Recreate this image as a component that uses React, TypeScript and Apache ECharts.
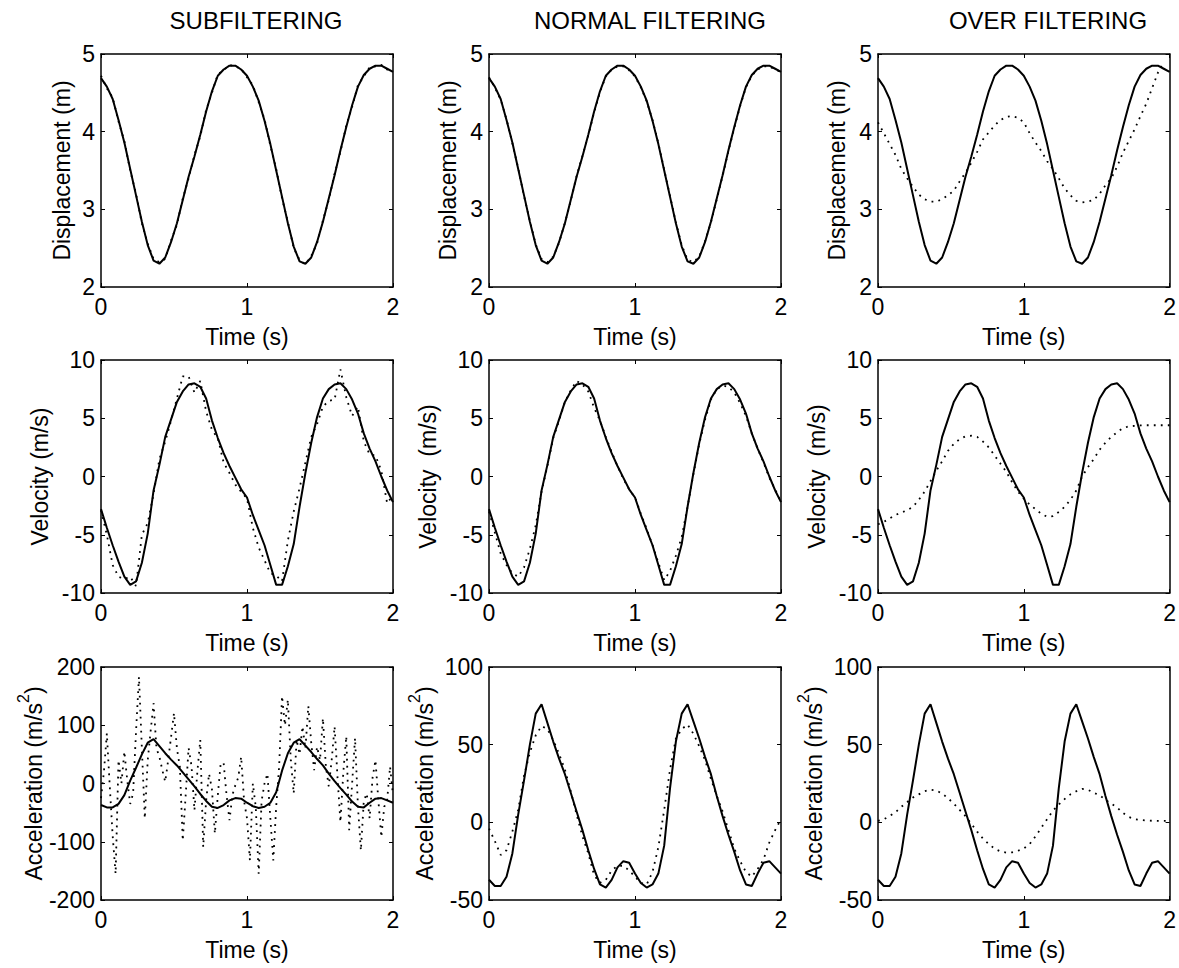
import React, { useEffect, useRef } from "react";
import * as echarts from "echarts";

// ---------- data ----------
const TIME = [0, 0.04, 0.08, 0.12, 0.16, 0.2, 0.24, 0.28, 0.32, 0.36, 0.4, 0.44, 0.48, 0.52, 0.56, 0.6, 0.64, 0.68, 0.72, 0.76, 0.8, 0.84, 0.88, 0.92, 0.96, 1, 1.04, 1.08, 1.12, 1.16, 1.2, 1.24, 1.28, 1.32, 1.36, 1.4, 1.44, 1.48, 1.52, 1.56, 1.6, 1.64, 1.68, 1.72, 1.76, 1.8, 1.84, 1.88, 1.92, 1.96, 2];
const TIME_FINE = [0, 0.02, 0.04, 0.06, 0.08, 0.1, 0.12, 0.14, 0.16, 0.18, 0.2, 0.22, 0.24, 0.26, 0.28, 0.3, 0.32, 0.34, 0.36, 0.38, 0.4, 0.42, 0.44, 0.46, 0.48, 0.5, 0.52, 0.54, 0.56, 0.58, 0.6, 0.62, 0.64, 0.66, 0.68, 0.7, 0.72, 0.74, 0.76, 0.78, 0.8, 0.82, 0.84, 0.86, 0.88, 0.9, 0.92, 0.94, 0.96, 0.98, 1, 1.02, 1.04, 1.06, 1.08, 1.1, 1.12, 1.14, 1.16, 1.18, 1.2, 1.22, 1.24, 1.26, 1.28, 1.3, 1.32, 1.34, 1.36, 1.38, 1.4, 1.42, 1.44, 1.46, 1.48, 1.5, 1.52, 1.54, 1.56, 1.58, 1.6, 1.62, 1.64, 1.66, 1.68, 1.7, 1.72, 1.74, 1.76, 1.78, 1.8, 1.82, 1.84, 1.86, 1.88, 1.9, 1.92, 1.94, 1.96, 1.98, 2];

// reference (solid) signals
const dispRef = [4.69, 4.58, 4.42, 4.15, 3.86, 3.52, 3.18, 2.84, 2.54, 2.34, 2.30, 2.38, 2.58, 2.82, 3.12, 3.42, 3.68, 3.96, 4.26, 4.52, 4.72, 4.80, 4.85, 4.85, 4.80, 4.72, 4.58, 4.40, 4.14, 3.84, 3.50, 3.16, 2.82, 2.52, 2.33, 2.30, 2.38, 2.58, 2.84, 3.14, 3.44, 3.76, 4.06, 4.34, 4.58, 4.73, 4.81, 4.85, 4.85, 4.81, 4.77];
const velRef = [-2.8, -4.4, -5.9, -7.3, -8.6, -9.3, -9.0, -7.4, -4.9, -1.2, 1.0, 3.4, 4.9, 6.4, 7.3, 7.9, 8.0, 7.7, 6.7, 4.8, 3.3, 2.0, 0.9, -0.1, -1.1, -1.8, -3.3, -4.6, -5.9, -7.6, -9.3, -9.3, -7.7, -5.8, -2.6, 0.3, 2.9, 5.1, 6.7, 7.5, 7.9, 8.0, 7.5, 6.6, 5.4, 3.7, 2.4, 1.3, 0.0, -1.2, -2.2];
const accRef = [-37, -41, -41, -35, -20, 5, 27, 50, 70, 76, 64, 52, 41, 31, 19, 7, -5, -18, -30, -40, -42, -37, -29, -25, -26, -33, -39, -42, -40, -33, -15, 22, 52, 70, 76, 65, 54, 42, 31, 17, 4, -8, -19, -31, -40, -41, -33, -26, -25, -29, -33];

// filtered (dotted) signals
const dispSub = [4.72, 4.56, 4.44, 4.13, 3.88, 3.50, 3.20, 2.82, 2.56, 2.36, 2.32, 2.36, 2.60, 2.80, 3.14, 3.40, 3.70, 3.94, 4.28, 4.50, 4.74, 4.79, 4.86, 4.84, 4.81, 4.70, 4.60, 4.38, 4.16, 3.82, 3.52, 3.14, 2.84, 2.50, 2.35, 2.29, 2.40, 2.56, 2.86, 3.12, 3.46, 3.74, 4.08, 4.32, 4.60, 4.71, 4.83, 4.84, 4.86, 4.80, 4.78];
const dispNorm = [4.70, 4.57, 4.41, 4.16, 3.85, 3.53, 3.17, 2.85, 2.55, 2.36, 2.32, 2.39, 2.57, 2.83, 3.11, 3.43, 3.69, 3.95, 4.25, 4.51, 4.71, 4.80, 4.84, 4.84, 4.79, 4.71, 4.57, 4.39, 4.15, 3.85, 3.51, 3.17, 2.83, 2.54, 2.35, 2.32, 2.39, 2.59, 2.83, 3.13, 3.43, 3.75, 4.05, 4.33, 4.57, 4.72, 4.80, 4.84, 4.84, 4.80, 4.77];
const dispOver = [4.12, 3.98, 3.84, 3.70, 3.52, 3.40, 3.29, 3.19, 3.13, 3.10, 3.10, 3.13, 3.18, 3.24, 3.36, 3.47, 3.60, 3.74, 3.90, 3.99, 4.08, 4.15, 4.19, 4.20, 4.18, 4.12, 3.98, 3.86, 3.75, 3.62, 3.52, 3.40, 3.27, 3.18, 3.11, 3.09, 3.10, 3.12, 3.20, 3.31, 3.40, 3.55, 3.73, 3.88, 4.03, 4.20, 4.36, 4.56, 4.76, 4.90, null];
const velSub = [-2.9, -5.0, -7.6, -8.6, -8.8, -8.6, -9.4, -5.0, -4.0, -1.5, 1.5, 3.0, 4.8, 6.7, 8.6, 8.6, 7.2, 8.2, 5.6, 4.0, 3.3, 1.2, 0.3, -0.7, -1.3, -1.9, -4.4, -6.1, -7.2, -8.3, -8.5, -9.0, -5.5, -3.0, -1.0, 1.2, 3.4, 4.5, 6.0, 6.5, 6.6, 9.2, 6.8, 5.2, 6.0, 3.0, 1.9, 1.8, 0.5, -2.3, -1.6];
const velNorm = [-3.0, -4.8, -6.6, -7.6, -8.3, -8.6, -7.8, -6.2, -4.2, -1.3, 0.9, 3.3, 4.8, 6.4, 7.4, 8.2, 7.9, 7.3, 5.9, 4.8, 3.4, 2.1, 0.9, -0.2, -1.1, -1.8, -3.2, -4.5, -5.9, -7.4, -8.9, -8.1, -6.8, -5.2, -2.6, 0.2, 2.8, 4.9, 6.6, 7.5, 7.8, 7.7, 7.2, 6.3, 5.2, 3.7, 2.4, 1.2, -0.1, -1.1, -2.2];
const velOver = [-4.1, -3.9, -3.6, -3.3, -3.1, -2.9, -2.6, -2.0, -1.3, -0.4, 0.5, 1.3, 2.2, 2.8, 3.2, 3.45, 3.5, 3.4, 3.0, 2.5, 1.8, 1.1, 0.4, -0.5, -1.3, -1.9, -2.4, -2.8, -3.2, -3.45, -3.4, -3.05, -2.6, -2.0, -1.2, 0.0, 0.8, 1.5, 2.3, 2.9, 3.4, 3.8, 4.15, 4.3, 4.35, 4.38, 4.4, 4.4, 4.4, 4.4, 4.4];
const accSub = [
  -25, 20, 86, -5, -90, -155, 40, 0, 55, 5,
  -35, -17, 90, 183, 60, -60, 40, 90, 138, 60,
  46, 23, 3, 40, 80, 121, 60, 29, -98, -20,
  61, 30, -46, 20, 75, -109, -30, 17, -10, -86,
  -20, 35, 35, -20, -63, -20, -3, 10, 46, -30,
  -60, -132, 0, -40, -155, -30, 0, 17, -60, -132,
  -40, 29, 150, 100, 144, 40, -17, 75, 50, 98,
  60, 133, 70, 23, 63, 40, 112, 30, -5, 40,
  98, 10, -66, 20, 81, -80, 0, 78, -40, -115,
  -30, -17, -60, 10, 40, -30, -92, -40, -28, 29,
  -20,
];
const accNorm = [-4, -12, -21, -18, -6, 8, 30, 45, 56, 62, 60, 53, 44, 34, 20, 5, -9, -20, -34, -39, -37, -31, -28, -28, -31, -35, -39, -40, -32, -16, 8, 34, 54, 60, 63, 57, 49, 40, 28, 17, 7, -5, -17, -25, -32, -35, -30, -24, -13, -5, 2];
const accOver = [1, 2, 4, 6.5, 10, 13, 16, 18, 20, 21, 20.5, 18.5, 15.5, 12, 8, 4, -1, -6, -10.5, -14, -17, -18.7, -19.5, -19.3, -18.3, -16.8, -14, -9, -3.5, 2, 7.5, 11.5, 15, 18, 20, 21.5, 21, 19, 17.5, 14.5, 12, 9.5, 6, 3.5, 2, 1.5, 1.2, 1, 0.9, 0.9, 0.9];

// texts and axis ranges
const COLUMN_TITLES = ["SUBFILTERING", "NORMAL FILTERING", "OVER FILTERING"];
const X_NAME = "Time (s)";
const X_RANGE = [0, 2, 1];
const DISP_RANGE = [2, 5, 1];
const VEL_RANGE = [-10, 10, 5];
const ACC_RANGE_WIDE = [-200, 200, 100];
const ACC_RANGE = [-50, 100, 50];

// ---------- layout ----------
const COL_LEFT = [101, 489, 878];
const ROW_TOP = [54, 360, 667];
const BOX_W = 292;
const BOX_H = 233;
const TITLE_X = [256, 650, 1048];
const FONT = '"Liberation Sans", Arial, Helvetica, sans-serif';
const FS = 23;

type Panel = {
  row: number;
  col: number;
  yName: string;
  range: number[];
  gap: number;
  ref: (number | null)[];
  refT: number[];
  filt: (number | null)[];
  filtT: number[];
};

const ACC_NAME = "{n|Acceleration (m/s}{s|2}{n|)}";

const PANELS: Panel[] = [
  { row: 0, col: 0, yName: "Displacement (m)", range: DISP_RANGE, gap: 28, ref: dispRef, refT: TIME, filt: dispSub, filtT: TIME },
  { row: 0, col: 1, yName: "Displacement (m)", range: DISP_RANGE, gap: 30, ref: dispRef, refT: TIME, filt: dispNorm, filtT: TIME },
  { row: 0, col: 2, yName: "Displacement (m)", range: DISP_RANGE, gap: 30, ref: dispRef, refT: TIME, filt: dispOver, filtT: TIME },
  { row: 1, col: 0, yName: "Velocity (m/s)", range: VEL_RANGE, gap: 50, ref: velRef, refT: TIME, filt: velSub, filtT: TIME },
  { row: 1, col: 1, yName: "Velocity  (m/s)", range: VEL_RANGE, gap: 50, ref: velRef, refT: TIME, filt: velNorm, filtT: TIME },
  { row: 1, col: 2, yName: "Velocity  (m/s)", range: VEL_RANGE, gap: 50, ref: velRef, refT: TIME, filt: velOver, filtT: TIME },
  { row: 2, col: 0, yName: ACC_NAME, range: ACC_RANGE_WIDE, gap: 56, ref: accRef, refT: TIME, filt: accSub, filtT: TIME_FINE },
  { row: 2, col: 1, yName: ACC_NAME, range: ACC_RANGE, gap: 53, ref: accRef, refT: TIME, filt: accNorm, filtT: TIME },
  { row: 2, col: 2, yName: ACC_NAME, range: ACC_RANGE, gap: 53, ref: accRef, refT: TIME, filt: accOver, filtT: TIME },
];

const pairs = (t: number[], v: (number | null)[]) => t.map((x, i) => [x, v[i]]);

const textBase = { color: "#000", fontFamily: FONT, fontSize: FS };
const lineBlack = { color: "#000", width: 1.5 };

function buildOption() {
  const grid: any[] = [];
  const xAxis: any[] = [];
  const yAxis: any[] = [];
  const series: any[] = [];

  PANELS.forEach((p, i) => {
    grid.push({ left: COL_LEFT[p.col], top: ROW_TOP[p.row], width: BOX_W, height: BOX_H, containLabel: false });
    const tick = { show: true, inside: true, length: 4, lineStyle: { color: "#000", width: 1 } };
    xAxis.push({
      type: "value", gridIndex: i, position: "bottom",
      min: X_RANGE[0], max: X_RANGE[1], interval: X_RANGE[2],
      axisLine: { show: true, onZero: false, lineStyle: lineBlack },
      axisTick: tick,
      axisLabel: { ...textBase, margin: 8 },
      splitLine: { show: false },
      name: X_NAME, nameLocation: "middle", nameGap: 38, nameTextStyle: { ...textBase },
    });
    xAxis.push({
      type: "value", gridIndex: i, position: "top",
      min: X_RANGE[0], max: X_RANGE[1], interval: X_RANGE[2],
      axisLine: { show: true, onZero: false, lineStyle: lineBlack },
      axisTick: tick, axisLabel: { show: false }, splitLine: { show: false },
    });
    yAxis.push({
      type: "value", gridIndex: i, position: "left",
      min: p.range[0], max: p.range[1], interval: p.range[2],
      axisLine: { show: true, onZero: false, lineStyle: lineBlack },
      axisTick: tick,
      axisLabel: { ...textBase, margin: 6 },
      splitLine: { show: false },
      name: p.yName, nameLocation: "middle", nameGap: p.gap, nameRotate: 90,
      nameTextStyle: {
        ...textBase,
        rich: {
          n: { fontFamily: FONT, fontSize: FS, color: "#000", lineHeight: 30, verticalAlign: "bottom" },
          s: { fontFamily: FONT, fontSize: 16, color: "#000", lineHeight: 30, verticalAlign: "top" },
        },
      },
    });
    yAxis.push({
      type: "value", gridIndex: i, position: "right",
      min: p.range[0], max: p.range[1], interval: p.range[2],
      axisLine: { show: true, onZero: false, lineStyle: lineBlack },
      axisTick: tick, axisLabel: { show: false }, splitLine: { show: false },
    });

    series.push({
      type: "line", xAxisIndex: 2 * i, yAxisIndex: 2 * i,
      data: pairs(p.filtT, p.filt), showSymbol: false, symbol: "none", clip: true,
      lineStyle: { color: "#000", width: 1.8, type: [1.8, 5.2], cap: "butt" },
      silent: true,
    });
    series.push({
      type: "line", xAxisIndex: 2 * i, yAxisIndex: 2 * i,
      data: pairs(p.refT, p.ref), showSymbol: false, symbol: "none", clip: true,
      lineStyle: { color: "#000", width: 2 },
      silent: true,
    });
  });

  const graphic = COLUMN_TITLES.map((t, c) => ({
    type: "text", x: TITLE_X[c], y: 20,
    style: {
      text: t, fill: "#000", fontFamily: FONT, fontSize: 24,
      textAlign: "center", textVerticalAlign: "middle", align: "center", verticalAlign: "middle",
    },
  }));

  return {
    animation: false,
    backgroundColor: "#fff",
    textStyle: { fontFamily: FONT, color: "#000" },
    grid, xAxis, yAxis, series, graphic,
  };
}

export default function App() {
  const ref = useRef<HTMLDivElement>(null);
  useEffect(() => {
    document.body.style.margin = "0";
    document.body.style.overflow = "hidden";
    if (!ref.current) return;
    const chart = echarts.init(ref.current, undefined, { renderer: "svg" });
    chart.setOption(buildOption() as any);
    return () => chart.dispose();
  }, []);
  return <div ref={ref} style={{ width: 1179, height: 968, background: "#fff" }} />;
}
